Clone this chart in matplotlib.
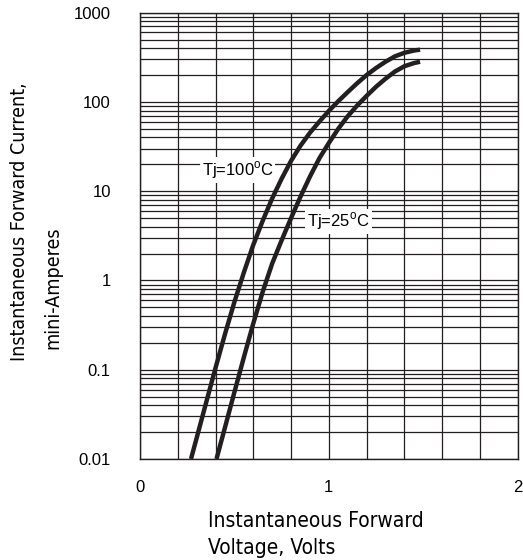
import matplotlib
matplotlib.use("Agg")
import matplotlib.pyplot as plt
from matplotlib.ticker import LogLocator, MultipleLocator, FixedLocator

plt.rcParams['font.family'] = ['Liberation Sans', 'DejaVu Sans']

# forward voltage (V) vs forward current (mA)
v_100 = [0.27, 0.30, 0.35, 0.40, 0.45, 0.50, 0.55, 0.60, 0.65, 0.70, 0.75, 0.80, 0.85,
         0.90, 0.95, 1.00, 1.05, 1.10, 1.15, 1.20, 1.25, 1.30, 1.35, 1.40, 1.45, 1.483]
i_100 = [0.01, 0.0172, 0.0427, 0.105, 0.251, 0.575, 1.23, 2.51, 4.68, 8.32, 13.8, 21.9, 32.4,
         45.2, 60.3, 79.4, 102, 129, 162, 200, 240, 282, 324, 355, 376, 385]

v_25 = [0.405, 0.45, 0.50, 0.55, 0.60, 0.65, 0.70, 0.75, 0.80, 0.85, 0.90, 0.95,
        1.00, 1.05, 1.10, 1.15, 1.20, 1.25, 1.30, 1.35, 1.40, 1.45, 1.483]
i_25 = [0.01, 0.0226, 0.0562, 0.138, 0.331, 0.750, 1.55, 2.82, 5.01, 8.71, 14.6, 23.4,
        34.7, 50.1, 69.2, 91.2, 117, 148, 182, 219, 251, 272, 282]

y_ticks = [0.01, 0.1, 1, 10, 100, 1000]
y_labels = ["0.01", "0.1", "1", "10", "100", "1000"]
x_ticks = [0, 1, 2]

fig = plt.figure(figsize=(5.23, 5.6), dpi=100)
ax = fig.add_axes([0.2677, 0.1804, 0.7222, 0.797])

ax.set_yscale("log")
ax.set_xlim(0, 2)
ax.set_ylim(0.01, 1000)

# grid
ax.xaxis.set_minor_locator(MultipleLocator(0.2))
ax.yaxis.set_minor_locator(LogLocator(base=10, subs=range(2, 10), numticks=20))
ax.grid(True, which="both", color="#231f20", linewidth=0.9)
ax.set_axisbelow(True)

ax.plot(v_100, i_100, color="#231f20", linewidth=3.2, solid_capstyle="butt",
        solid_joinstyle="round", zorder=3)
ax.plot(v_25, i_25, color="#231f20", linewidth=3.2, solid_capstyle="butt",
        solid_joinstyle="round", zorder=3)

box = dict(facecolor="white", edgecolor="none", pad=1.5)
ax.text(0.516, 17.3, "Tj=100$^\\mathregular{o}$C", fontsize=12, ha="center", va="center", bbox=box, zorder=4)
ax.text(1.05, 4.56, "Tj=25$^\\mathregular{o}$C", fontsize=12, ha="center", va="center", bbox=box, zorder=4)

ax.yaxis.set_major_locator(FixedLocator(y_ticks))
ax.set_yticklabels(y_labels)
ax.set_xticks(x_ticks)
ax.set_xticklabels([str(x) for x in x_ticks])
ax.tick_params(which="both", length=0, labelsize=12)
ax.tick_params(axis="y", pad=21)
ax.tick_params(axis="x", pad=15)
for s in ax.spines.values():
    s.set_color("#231f20")
    s.set_linewidth(1)

lab = dict(family="DejaVu Sans", stretch="condensed")
fig.text(208 / 523, 1 - 521 / 560, "Instantaneous Forward", fontsize=15, ha="left", va="center", **lab)
fig.text(208 / 523, 1 - 548 / 560, "Voltage, Volts", fontsize=15, ha="left", va="center", **lab)
fig.text(20 / 523, 1 - 222 / 560, "Instantaneous Forward Current,", fontsize=14, rotation=90,
         ha="center", va="center", **lab)
fig.text(53 / 523, 1 - 288 / 560, "mini-Amperes", fontsize=14, rotation=90, ha="center", va="center", **lab)

fig.savefig("out.png", dpi=100)
